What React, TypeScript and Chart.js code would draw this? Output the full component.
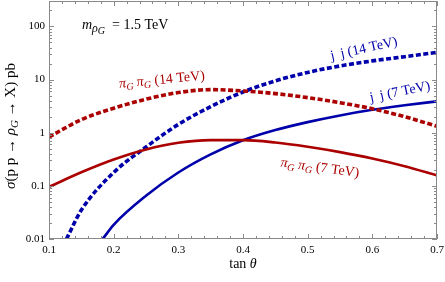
import React, { useEffect, useRef } from "react";
import { Chart, registerables } from "chart.js";
Chart.register(...registerables);

// ---- data ----
const xPi = [0.1, 0.15, 0.2, 0.25, 0.3, 0.35, 0.4, 0.45, 0.5, 0.55, 0.6, 0.65, 0.7];
const piPi7 = [0.0955, 0.18, 0.313, 0.484, 0.646, 0.724, 0.724, 0.653, 0.543, 0.431, 0.327, 0.234, 0.157];
const piPi14 = [0.83, 1.76, 2.88, 4.27, 5.69, 6.46, 6.1, 5.43, 4.57, 3.67, 2.82, 2.0, 1.32];
const xJj7 = [0.183, 0.2, 0.25, 0.3, 0.35, 0.4, 0.45, 0.5, 0.55, 0.6, 0.65, 0.7];
const jj7 = [0.01, 0.0185, 0.065, 0.178, 0.39, 0.72, 1.12, 1.58, 2.11, 2.69, 3.27, 3.89];
const xJj14 = [0.127, 0.15, 0.2, 0.25, 0.3, 0.35, 0.4, 0.45, 0.5, 0.55, 0.6, 0.65, 0.7];
const jj14 = [0.01, 0.035, 0.178, 0.537, 1.43, 3.09, 5.82, 9.44, 13.6, 18.0, 22.4, 26.9, 32.4];
const xTicks = [0.1, 0.2, 0.3, 0.4, 0.5, 0.6, 0.7];
const yTicks = [0.01, 0.1, 1, 10, 100];

const RED = "#aa0000";
const BLUE = "#0000aa";
const FONT = '"Liberation Serif", "DejaVu Serif", serif';

type Seg = { t: string; i?: boolean; s?: number; dy?: number };

function drawRich(
  ctx: CanvasRenderingContext2D,
  segs: Seg[],
  x: number,
  y: number,
  angle: number,
  size: number,
  color: string,
  align: "center" | "left" = "center"
) {
  ctx.save();
  ctx.translate(x, y);
  ctx.rotate((angle * Math.PI) / 180);
  ctx.fillStyle = color;
  ctx.textBaseline = "middle";
  ctx.textAlign = "left";
  const fontFor = (s: Seg) => `${s.i ? "italic " : ""}${s.s ?? size}px ${FONT}`;
  const widths = segs.map((s) => {
    ctx.font = fontFor(s);
    return ctx.measureText(s.t).width;
  });
  const total = widths.reduce((a, b) => a + b, 0);
  let cx = align === "center" ? -total / 2 : 0;
  segs.forEach((s, k) => {
    ctx.font = fontFor(s);
    ctx.fillText(s.t, cx, s.dy ?? 0);
    cx += widths[k];
  });
  ctx.restore();
}

const framePlugin = {
  id: "framePlugin",
  afterDraw(chart: any) {
    const { ctx, chartArea: a, scales } = chart;
    const xs = scales.x;
    const ys = scales.y;
    ctx.save();
    ctx.strokeStyle = "#8a8a8a";
    ctx.lineWidth = 1;
    ctx.strokeRect(a.left + 0.5, a.top + 0.5, a.right - a.left - 1, a.bottom - a.top - 1);
    ctx.beginPath();
    for (let k = 0; k <= 30; k++) {
      const v = 0.1 + k * 0.02;
      const px = Math.round(xs.getPixelForValue(v)) + 0.5;
      const len = k % 5 === 0 ? 5 : 3;
      ctx.moveTo(px, a.bottom);
      ctx.lineTo(px, a.bottom - len);
      ctx.moveTo(px, a.top);
      ctx.lineTo(px, a.top + len);
    }
    for (let d = -2; d <= 2; d++) {
      for (let m = 1; m <= 9; m++) {
        const v = m * Math.pow(10, d);
        if (v > ys.max) continue;
        const py = Math.round(ys.getPixelForValue(v)) + 0.5;
        const len = m === 1 ? 5 : 3;
        ctx.moveTo(a.left, py);
        ctx.lineTo(a.left + len, py);
        ctx.moveTo(a.right, py);
        ctx.lineTo(a.right - len, py);
      }
    }
    ctx.stroke();
    ctx.restore();

    // axis titles
    drawRich(ctx, [{ t: "tan " }, { t: "θ", i: true }], (a.left + a.right) / 2, 264, 0, 14, "#000");
    drawRich(
      ctx,
      [
        { t: "σ", i: true },
        { t: "(p p → " },
        { t: "ρ", i: true },
        { t: "G", i: true, s: 11, dy: 4 },
        { t: " → X) pb" },
      ],
      11,
      126,
      -90,
      15,
      "#000"
    );
    // annotations
    drawRich(
      ctx,
      [
        { t: "m", i: true },
        { t: "ρ", i: true, s: 12, dy: 4 },
        { t: "G", i: true, s: 10, dy: 6 },
        { t: "  = 1.5 TeV" },
      ],
      82,
      25,
      0,
      14,
      "#000",
      "left"
    );
    const piLabel = (e: string): Seg[] => [
      { t: "π", i: true },
      { t: "G", i: true, s: 10, dy: 4 },
      { t: " " },
      { t: "π", i: true },
      { t: "G", i: true, s: 10, dy: 4 },
      { t: ` (${e} TeV)` },
    ];
    drawRich(ctx, piLabel("14"), 162, 80, -5.5, 14, RED);
    drawRich(ctx, piLabel("7"), 320, 168, 7.8, 14, RED);
    drawRich(ctx, [{ t: "j\u2009 j (14 TeV)" }], 364, 49, -12.5, 14, BLUE);
    drawRich(ctx, [{ t: "j\u2009 j (7 TeV)" }], 400, 92, -11.5, 14, BLUE);
  },
};

function pts(xs: number[], ys: number[]) {
  return xs.map((x, k) => ({ x, y: ys[k] }));
}

export default function App() {
  const ref = useRef<HTMLCanvasElement>(null);
  useEffect(() => {
    const canvas = ref.current!;
    const chart = new Chart(canvas, {
      type: "line",
      data: {
        datasets: [
          { label: "ππ 7 TeV", data: pts(xPi, piPi7), borderColor: RED, borderWidth: 2.6 },
          {
            label: "ππ 14 TeV",
            data: pts(xPi, piPi14),
            borderColor: RED,
            borderWidth: 3.6,
            borderDash: [5, 2.5],
          },
          { label: "jj 7 TeV", data: pts(xJj7, jj7), borderColor: BLUE, borderWidth: 2.6 },
          {
            label: "jj 14 TeV",
            data: pts(xJj14, jj14),
            borderColor: BLUE,
            borderWidth: 3.6,
            borderDash: [5, 2.5],
          },
        ],
      },
      options: {
        responsive: false,
        animation: false,
        events: [],
        elements: {
          point: { radius: 0 },
          line: { cubicInterpolationMode: "monotone", borderCapStyle: "butt" },
        },
        layout: { padding: { top: 1, right: 8, left: 0, bottom: 0 } },
        plugins: { legend: { display: false }, tooltip: { enabled: false } },
        scales: {
          x: {
            type: "linear",
            min: 0.1,
            max: 0.7,
            grid: { display: false, drawTicks: false },
            border: { display: false },
            afterBuildTicks: (s: any) => {
              s.ticks = xTicks.map((v) => ({ value: v }));
            },
            afterFit: (s: any) => {
              s.height = 43;
              s.paddingLeft = 0;
              s.paddingRight = 0;
            },
            ticks: {
              padding: 5,
              maxRotation: 0,
              color: "#000",
              font: { family: FONT, size: 11 },
              callback: (v: any) => Number(v).toFixed(1),
            },
          },
          y: {
            type: "logarithmic",
            min: 0.01,
            max: 300,
            grid: { display: false, drawTicks: false },
            border: { display: false },
            afterBuildTicks: (s: any) => {
              s.ticks = yTicks.map((v) => ({ value: v }));
            },
            afterFit: (s: any) => {
              s.width = 49;
              s.paddingTop = 0;
              s.paddingBottom = 0;
            },
            ticks: {
              padding: 4,
              color: "#000",
              font: { family: FONT, size: 11 },
              callback: (v: any) => String(v),
            },
          },
        },
      },
      plugins: [framePlugin],
    } as any);
    return () => chart.destroy();
  }, []);
  return (
    <div style={{ position: "absolute", left: 0, top: 0, width: 445, height: 282, background: "#fff" }}>
      <canvas ref={ref} width={445} height={282} />
    </div>
  );
}
